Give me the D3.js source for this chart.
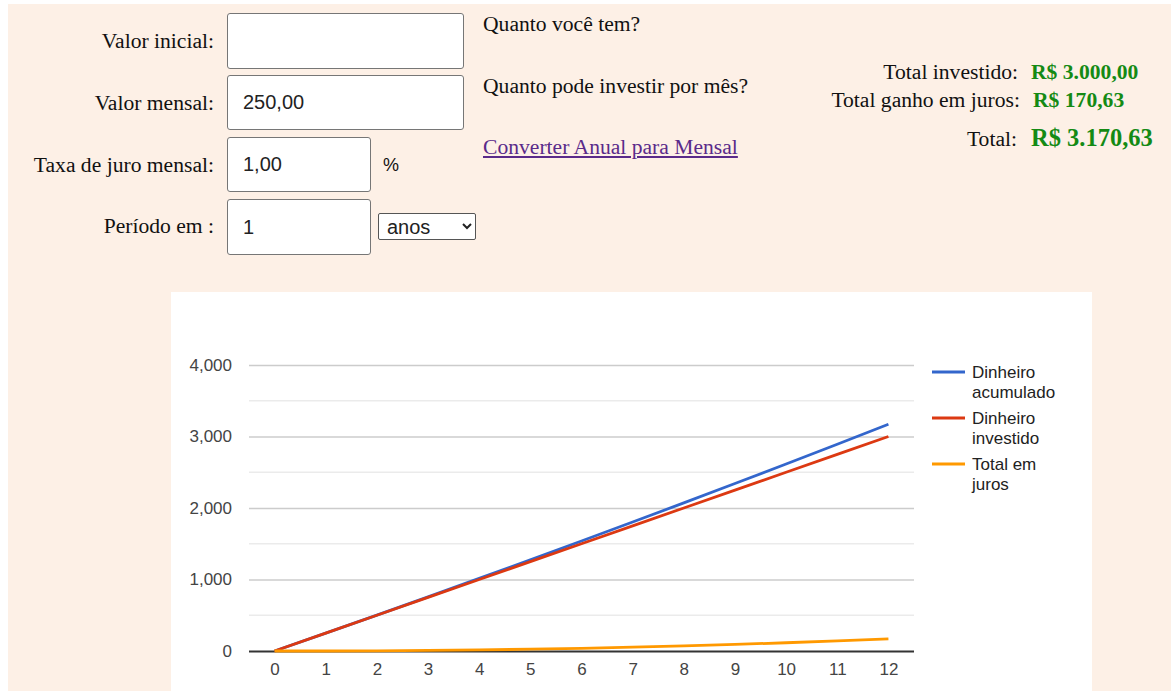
<!DOCTYPE html>
<html>
<head>
<meta charset="utf-8">
<script src="https://cdn.jsdelivr.net/npm/d3@7"></script>
<style>
  html, body { margin: 0; padding: 0; background: #fff; }
  body { width: 1171px; height: 691px; overflow: hidden; position: relative; }
  .page { position: absolute; left: 8px; top: 4px; right: 0; bottom: 0; background: #fdf0e6; }
  .lbl { position: absolute; font-family: "Liberation Serif", "Times New Roman", serif; font-size: 21.6px; color: #111; line-height: 24px; white-space: nowrap; }
  .right { text-align: right; }
  .val { font-weight: bold; color: #148a14; }
  input, select { position: absolute; box-sizing: border-box; font-family: "Liberation Sans", Arial, sans-serif; font-size: 20px; color: #222; background: #fff; }
  input { border: 1px solid #767676; border-radius: 3px; padding: 0 0 0 15px; }
  select { border: 1px solid #555; border-radius: 2px; padding: 0 4px; }
  a.lbl { color: #5a2a8a; text-decoration: underline; }
  #chart { position: absolute; left: 171px; top: 292px; }
</style>
</head>
<body>
<div class="page"></div>

<div class="lbl right" style="left:0;width:214px;top:29px">Valor inicial:</div>
<div class="lbl right" style="left:0;width:214px;top:91px">Valor mensal:</div>
<div class="lbl right" style="left:0;width:214px;top:153px">Taxa de juro mensal:</div>
<div class="lbl right" style="left:0;width:214px;top:214px">Período em :</div>

<input type="text" value="" style="left:227px;top:13px;width:237px;height:56px">
<input type="text" value="250,00" style="left:227px;top:75px;width:237px;height:55px">
<input type="text" value="1,00" style="left:227px;top:137px;width:144px;height:55px">
<input type="text" value="1" style="left:227px;top:199px;width:144px;height:56px">
<div class="lbl" style="left:383px;top:153px;font-family:'Liberation Sans',Arial,sans-serif;font-size:18px">%</div>
<select style="left:378px;top:213px;width:98px;height:27px"><option>anos</option><option>meses</option></select>

<div class="lbl" style="left:483px;top:12px">Quanto você tem?</div>
<div class="lbl" style="left:483px;top:74px">Quanto pode investir por mês?</div>
<a class="lbl" href="#" style="left:483px;top:135px">Converter Anual para Mensal</a>

<div class="lbl right" style="left:700px;width:318px;top:60px">Total investido:</div>
<div class="lbl val" style="left:1031px;top:60px">R$ 3.000,00</div>
<div class="lbl right" style="left:700px;width:320px;top:88px">Total ganho em juros:</div>
<div class="lbl val" style="left:1033px;top:88px">R$ 170,63</div>
<div class="lbl right" style="left:700px;width:317px;top:127px">Total:</div>
<div class="lbl val" style="left:1031px;top:126px;font-size:24.5px">R$ 3.170,63</div>

<svg id="chart" width="921" height="400"></svg>

<script>
// months 0..12, monthly deposit 250 at 1% a month
const months = [0, 1, 2, 3, 4, 5, 6, 7, 8, 9, 10, 11, 12];
const acumulado = [0, 250, 502.5, 757.53, 1015.1, 1275.25, 1538.0, 1803.38, 2071.42, 2342.13, 2615.55, 2891.71, 3170.63];
const investido = [0, 250, 500, 750, 1000, 1250, 1500, 1750, 2000, 2250, 2500, 2750, 3000];
const juros = [0, 0, 2.5, 7.53, 15.1, 25.25, 38.0, 53.38, 71.42, 92.13, 115.55, 141.71, 170.63];
const seriesNames = ["Dinheiro acumulado", "Dinheiro investido", "Total em juros"];
const colors = ["#3366cc", "#dc3912", "#ff9900"];
const yTicks = [0, 1000, 2000, 3000, 4000];
const yMinor = [500, 1500, 2500, 3500];

const svg = d3.select("#chart");
svg.append("rect").attr("width", 921).attr("height", 400).attr("fill", "#fff");

const x = d3.scaleLinear().domain([-0.5, 12.5]).range([78, 743]);
const y = d3.scaleLinear().domain([0, 4000]).range([359, 73]);
const font = "'Liberation Sans', Arial, sans-serif";

// minor grid
svg.append("g").selectAll("line").data(yMinor).enter().append("line")
    .attr("x1", x(-0.5)).attr("x2", x(12.5))
    .attr("y1", d => y(d)).attr("y2", d => y(d))
    .attr("stroke", "#ebebeb").attr("stroke-width", 1.3);

// y axis with gridlines
let yAxis = svg.append("g")
    .attr("transform", "translate(" + x(-0.5) + ",0)")
    .call(d3.axisLeft(y).tickValues(yTicks).tickSize(-(x(12.5) - x(-0.5))).tickPadding(17).tickFormat(d3.format(",")));
yAxis.select(".domain").remove();
yAxis.selectAll("line").attr("stroke", d => d === 0 ? "#333" : "#cccccc").attr("stroke-width", d => d === 0 ? 2 : 1.3);
yAxis.selectAll("text").attr("font-family", font).attr("font-size", 17).attr("fill", "#444");

// x axis labels
let xAxis = svg.append("g")
    .attr("transform", "translate(0," + y(0) + ")")
    .call(d3.axisBottom(x).tickValues(months).tickSize(0).tickPadding(12));
xAxis.select(".domain").remove();
xAxis.selectAll("text").attr("font-family", font).attr("font-size", 17).attr("fill", "#444");

// lines
const data = [acumulado, investido, juros];
const line = d3.line().x((d, i) => x(months[i])).y(d => y(d));
svg.append("g").selectAll("path").data(data).enter().append("path")
    .attr("d", line)
    .attr("fill", "none")
    .attr("stroke", (d, i) => colors[i])
    .attr("stroke-width", 2.8);

// legend
let legend = svg.append("g").selectAll("g").data(seriesNames).enter().append("g")
    .attr("transform", (d, i) => "translate(761," + (80 + i * 46) + ")");
legend.append("line").attr("x1", 0).attr("x2", 33)
    .attr("stroke", (d, i) => colors[i]).attr("stroke-width", 2.8);
legend.append("text")
    .attr("font-family", font).attr("font-size", 17).attr("fill", "#222")
    .selectAll("tspan").data(d => d.split(" ").length > 2 ? [d.split(" ").slice(0, 2).join(" "), d.split(" ").slice(2).join(" ")] : d.split(" "))
    .enter().append("tspan")
    .attr("x", 40).attr("y", (d, i) => 6 + i * 20)
    .text(d => d);
</script>
</body>
</html>
